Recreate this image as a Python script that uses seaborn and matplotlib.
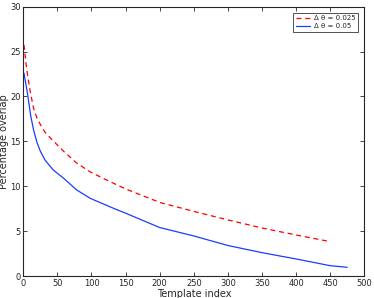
"""
percentage overlap against template index
for two values of delta theta
"""

import pandas as pd
import seaborn as sns
import matplotlib.pyplot as plt

red_x = [1, 5, 10, 15, 20, 27, 32, 42, 59, 78, 98, 122, 150, 200, 250, 300,
         350, 400, 450]
red_y = [25.75, 23.0, 20.6, 18.7, 17.6, 16.6, 16.0, 15.2, 13.9, 12.6, 11.6,
         10.7, 9.7, 8.2, 7.2, 6.25, 5.35, 4.57, 3.83]

blue_x = [1, 6, 11, 15, 20, 25, 32, 44, 59, 78, 98, 132, 150, 200, 250, 300,
          350, 400, 450, 475]
blue_y = [22.6, 20.4, 17.8, 16.3, 14.9, 13.9, 12.9, 11.8, 10.9, 9.6, 8.66,
          7.55, 7.0, 5.4, 4.46, 3.4, 2.6, 1.9, 1.15, 0.97]

labels = ["\u0394 \u03b8 = 0.025", "\u0394 \u03b8 = 0.05"]

df = pd.concat([
    pd.DataFrame({"x": red_x, "y": red_y, "s": labels[0]}),
    pd.DataFrame({"x": blue_x, "y": blue_y, "s": labels[1]}),
])

sns.set_style("ticks")
plt.rcParams["font.family"] = ["DejaVu Sans"]
plt.rcParams["xtick.direction"] = "in"
plt.rcParams["ytick.direction"] = "in"

fig = plt.figure(figsize=(3.74, 2.98), dpi=100)
ax = fig.add_axes([0.0623, 0.0738, 0.9117, 0.9037])

sns.lineplot(data=df, x="x", y="y", hue="s", style="s",
             palette=["#ff0000", "#1a3cff"],
             dashes=[(4, 3), ""], linewidth=0.9, ax=ax)

ax.set_xlim(0, 500)
ax.set_ylim(0, 30)
ax.set_xticks(range(0, 501, 50))
ax.set_yticks(range(0, 31, 5))
ax.tick_params(labelsize=6, length=3, width=0.6, top=True, right=True, pad=2)
for sp in ax.spines.values():
    sp.set_linewidth(0.8)
    sp.set_visible(True)
ax.set_xlabel("Template index", fontsize=7, labelpad=1)
ax.set_ylabel("Percentage overlap", fontsize=7, labelpad=1)

leg = ax.legend(fontsize=5, loc="upper right", title=None,
                frameon=True, fancybox=False, edgecolor="black",
                borderaxespad=0.9, handlelength=2.0, borderpad=0.35,
                labelspacing=0.25, handletextpad=0.6)
leg.get_frame().set_linewidth(0.6)

plt.savefig("out.png", dpi=100)
